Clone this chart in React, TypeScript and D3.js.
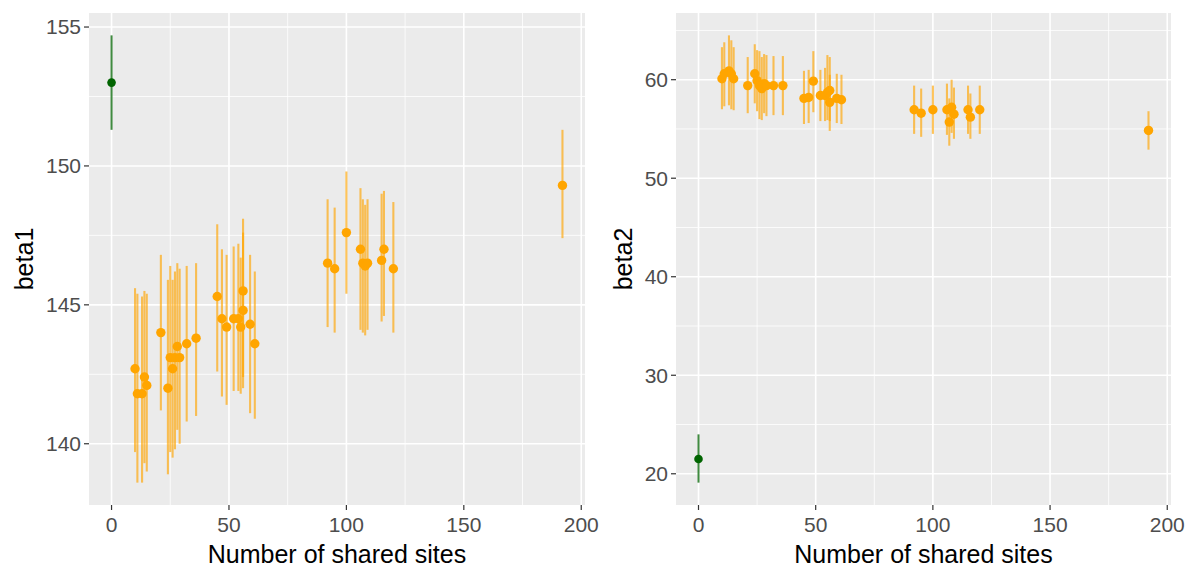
import * as d3 from "d3";

// number of shared sites for every estimate (orange)
const sites = [10, 11, 13, 14, 15, 21, 24, 25, 26, 27, 28, 29, 32, 36, 45, 47, 49, 52, 54, 55, 56, 56, 59, 61, 92, 95, 100, 106, 107, 108, 109, 115, 116, 120, 192];

const beta1 = [142.7, 141.8, 141.8, 142.4, 142.1, 144.0, 142.0, 143.1, 142.7, 143.1, 143.5, 143.1, 143.6, 143.8, 145.3, 144.5, 144.2, 144.5, 144.5, 144.2, 145.5, 144.8, 144.3, 143.6, 146.5, 146.3, 147.6, 147.0, 146.5, 146.4, 146.5, 146.6, 147.0, 146.3, 149.3];
const beta1Lo = [139.7, 138.6, 138.6, 139.3, 139.0, 141.2, 138.9, 139.7, 139.5, 139.8, 140.5, 140.0, 140.8, 141.0, 142.6, 141.7, 141.4, 141.9, 141.9, 141.8, 142.4, 142.0, 141.1, 140.9, 144.2, 144.0, 145.4, 144.1, 144.0, 143.9, 144.1, 144.4, 144.6, 144.0, 147.4];
const beta1Hi = [145.6, 145.4, 145.3, 145.5, 145.4, 146.8, 145.9, 146.4, 145.9, 146.2, 146.5, 146.3, 146.4, 146.5, 147.9, 147.0, 146.8, 147.1, 147.2, 146.7, 148.1, 147.6, 146.8, 146.2, 148.8, 148.5, 149.8, 149.2, 148.8, 148.6, 148.8, 149.0, 149.1, 148.7, 151.3];

const beta2 = [60.1, 60.6, 60.9, 60.6, 60.1, 59.4, 60.6, 59.9, 59.4, 59.1, 59.6, 59.4, 59.4, 59.4, 58.1, 58.2, 59.85, 58.4, 58.4, 58.7, 58.9, 57.7, 58.1, 57.96, 56.95, 56.6, 56.95, 56.95, 55.7, 57.2, 56.5, 56.95, 56.2, 56.95, 54.85];
const beta2Lo = [57.0, 57.3, 57.4, 57.0, 56.9, 56.6, 57.6, 56.8, 56.0, 55.9, 56.6, 56.3, 56.4, 56.4, 55.5, 55.6, 56.7, 55.8, 55.8, 55.9, 55.8, 54.8, 55.6, 55.5, 54.5, 54.2, 54.5, 54.4, 53.3, 54.6, 54.0, 54.5, 54.0, 54.5, 52.9];
const beta2Hi = [63.3, 63.8, 64.5, 64.0, 63.3, 62.3, 63.6, 63.0, 62.9, 62.3, 62.6, 62.5, 62.4, 62.4, 60.9, 61.0, 62.9, 61.0, 61.2, 62.5, 62.3, 60.5, 60.6, 60.5, 59.4, 59.1, 59.4, 59.6, 58.1, 60.0, 59.2, 59.4, 58.6, 59.4, 56.8];

// reference estimate (green) at 0 shared sites
const refSite = 0;
const refBeta1 = [153.0, 151.3, 154.7];
const refBeta2 = [21.5, 19.1, 24.0];

const xTicks = [0, 50, 100, 150, 200];
const xMinor = [25, 75, 125, 175];
const beta1Ticks = [140, 145, 150, 155];
const beta1Minor = [142.5, 147.5, 152.5];
const beta2Ticks = [20, 30, 40, 50, 60];
const beta2Minor = [25, 35, 45, 55, 65];

const FONT = "'Liberation Sans', Arial, sans-serif";

// ggplot-like 5% expansion
const expand = (lo, hi) => {
    const pad = (hi - lo) * 0.05;
    return [lo - pad, hi + pad];
};

const Panel = ({ left, right, top, bottom, yLabel, yVals, yLo, yHi, refVals, yTicks, yMinor, titleX }) => {
    const xs = [refSite, ...sites];
    const x = d3.scaleLinear()
        .domain(expand(d3.min(xs), d3.max(xs)))
        .range([left, right]);
    const allLo = [...yLo, refVals[1]];
    const allHi = [...yHi, refVals[2]];
    const y = d3.scaleLinear()
        .domain(expand(d3.min(allLo), d3.max(allHi)))
        .range([bottom, top]);

    return (
        <g>
            <rect x={left} y={top} width={right - left} height={bottom - top} fill="#EBEBEB" />
            {yMinor.map(t => (
                <line key={"ym" + t} x1={left} x2={right} y1={y(t)} y2={y(t)} stroke="#fff" strokeWidth={0.8} />
            ))}
            {xMinor.map(t => (
                <line key={"xm" + t} x1={x(t)} x2={x(t)} y1={top} y2={bottom} stroke="#fff" strokeWidth={0.8} />
            ))}
            {yTicks.map(t => (
                <line key={"yM" + t} x1={left} x2={right} y1={y(t)} y2={y(t)} stroke="#fff" strokeWidth={1.6} />
            ))}
            {xTicks.map(t => (
                <line key={"xM" + t} x1={x(t)} x2={x(t)} y1={top} y2={bottom} stroke="#fff" strokeWidth={1.6} />
            ))}

            {sites.map((s, i) => (
                <line key={"e" + i} x1={x(s)} x2={x(s)} y1={y(yLo[i])} y2={y(yHi[i])}
                    stroke="orange" strokeOpacity={0.65} strokeWidth={2.1} />
            ))}
            <line x1={x(refSite)} x2={x(refSite)} y1={y(refVals[1])} y2={y(refVals[2])}
                stroke="darkgreen" strokeOpacity={0.75} strokeWidth={2} />
            {sites.map((s, i) => (
                <circle key={"p" + i} cx={x(s)} cy={y(yVals[i])} r={4.7} fill="orange" />
            ))}
            <circle cx={x(refSite)} cy={y(refVals[0])} r={4.3} fill="darkgreen" />

            {yTicks.map(t => (
                <g key={"yt" + t}>
                    <line x1={left - 5} x2={left} y1={y(t)} y2={y(t)} stroke="#333" strokeWidth={1.2} />
                    <text x={left - 8} y={y(t)} dy="0.35em" textAnchor="end" fontSize={21} fill="#4D4D4D" fontFamily={FONT}>{t}</text>
                </g>
            ))}
            {xTicks.map(t => (
                <g key={"xt" + t}>
                    <line x1={x(t)} x2={x(t)} y1={bottom} y2={bottom + 5} stroke="#333" strokeWidth={1.2} />
                    <text x={x(t)} y={bottom + 27} textAnchor="middle" fontSize={21} fill="#4D4D4D" fontFamily={FONT}>{t}</text>
                </g>
            ))}

            <text x={(left + right) / 2} y={563} textAnchor="middle" fontSize={25} fill="#000" fontFamily={FONT}>
                Number of shared sites
            </text>
            <text transform={`translate(${titleX}, ${(top + bottom) / 2}) rotate(-90)`} textAnchor="middle"
                fontSize={25} fill="#000" fontFamily={FONT}>
                {yLabel}
            </text>
        </g>
    );
};

export default function App() {
    return (
        <svg width={1190} height={570} style={{ position: "absolute", left: 0, top: 0, background: "#fff" }}>
            <Panel left={89} right={585} top={13} bottom={505} yLabel="beta1"
                yVals={beta1} yLo={beta1Lo} yHi={beta1Hi} refVals={refBeta1}
                yTicks={beta1Ticks} yMinor={beta1Minor} titleX={33} />
            <Panel left={676} right={1171} top={13} bottom={505} yLabel="beta2"
                yVals={beta2} yLo={beta2Lo} yHi={beta2Hi} refVals={refBeta2}
                yTicks={beta2Ticks} yMinor={beta2Minor} titleX={632} />
        </svg>
    );
}
